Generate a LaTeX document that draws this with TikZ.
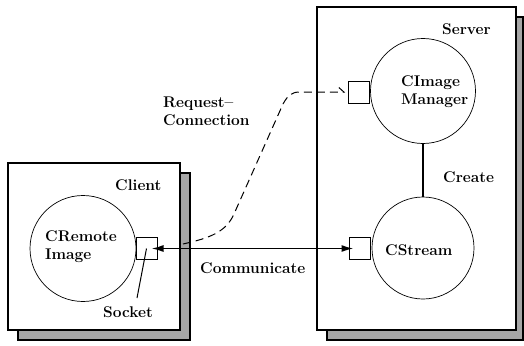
\documentclass[tikz,border=0pt]{standalone}
\usetikzlibrary{arrows.meta}
\begin{document}
\begin{tikzpicture}[x=1pt,y=-1pt,
  lbl/.style={font=\fontsize{15.5}{17.5}\selectfont\bfseries, inner sep=0pt, anchor=base west, align=left},
  shadowbox/.style={draw=black, line width=1.6pt, fill=black!35, inner sep=0pt},
  frontbox/.style={draw=black, line width=1.6pt, fill=white, inner sep=0pt},
  obj/.style={circle, draw=black, line width=0.7pt, inner sep=0pt},
  sockbox/.style={draw=black, line width=0.7pt, fill=white, inner sep=0pt, minimum width=21, minimum height=22},
  conn/.style={line width=1.7pt}
]
\useasboundingbox (0,0) rectangle (524,345);
% server
\node[shadowbox, minimum width=196, minimum height=323] (srvsh) at (425,178.5) {};
\node[frontbox, minimum width=199, minimum height=323] (srv) at (416.5,168.5) {};
% client
\node[shadowbox, minimum width=172, minimum height=167] (clish) at (104,256.5) {};
\node[frontbox, minimum width=172, minimum height=167] (cli) at (94,246.5) {};
% objects
\node[obj, minimum size=106] (crem) at (83,248.5) {};
\node[obj, minimum size=105] (cim) at (423,91) {};
\node[obj, minimum size=102] (cst) at (423,248) {};
% sockets
\node[sockbox] (cs) at (146.5,248.5) {};
\node[sockbox] (ms) at (359,92) {};
\node[sockbox] (ss) at (359.5,248.5) {};
% labels
\node[lbl] (tclient) at (115,190) {Client};
\node[lbl] (tcrem) at (45,259) {CRemote\\Image};
\node[lbl] (tsock) at (103,317) {Socket};
\node[lbl] (tcomm) at (200,273) {Communicate};
\node[lbl] (treq) at (163,125) {Request--\\Connection};
\node[lbl] (tserver) at (442,35) {Server};
\node[lbl] (tcim) at (401,104) {CImage\\Manager};
\node[lbl] (tcreate) at (443,182) {Create};
\node[lbl] (tcst) at (385,255) {CStream};
% connectors
\draw[line width=1.5pt] (cim.south) -- (cst.north);
\draw[conn, {Latex[length=12pt,width=7pt]}-{Latex[length=12pt,width=7pt]}]
  ([xshift=5]cs.center) -- ([xshift=-6]ss.center);
\coordinate (dstart) at (183,244);
\coordinate (sockfoot) at (137,298);
\draw[line width=1pt, dash pattern=on 8pt off 5pt, -{Straight Barb[left, length=5pt, width=9pt]}]
  (dstart) .. controls (210,238) and (226,232) .. (234,214) -- (283,104)
  .. controls (288,95) and (292,92) .. (300,92) -- ([xshift=-3]ms.west);
\draw[line width=1pt] (sockfoot) -- (cs.center);
\end{tikzpicture}
\end{document}
